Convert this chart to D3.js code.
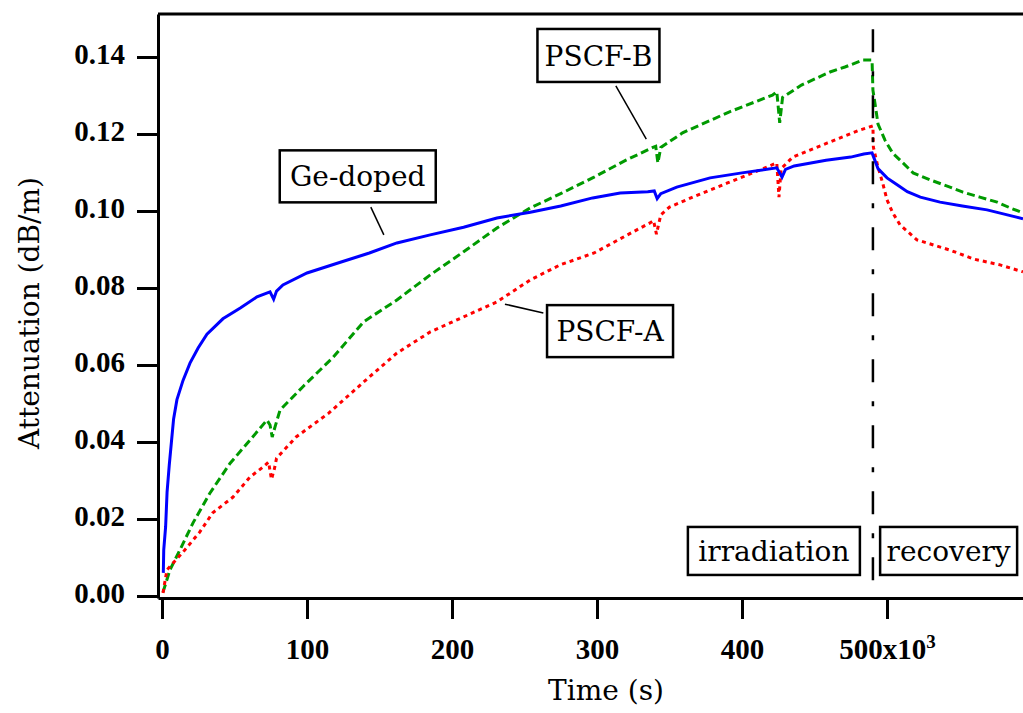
<!DOCTYPE html>
<html>
<head>
<meta charset="utf-8">
<script src="https://cdn.jsdelivr.net/npm/d3@7"></script>
<style>
  html, body { margin: 0; padding: 0; background: #fff; }
  svg { display: block; }
  .tick-lbl { font-family: "Liberation Serif", serif; font-weight: bold; font-size: 29px; fill: #000; }
  .title { font-family: "DejaVu Serif", serif; font-size: 28px; fill: #000; }
  .anno { font-family: "DejaVu Serif", serif; font-size: 28px; fill: #000; }
</style>
</head>
<body>
<div id="chart"></div>
<script>
// Time in units of 10^3 s, attenuation in dB/m

// Ge-doped fibre (blue)
const geTime = [0.9, 1.2, 2.5, 3.5, 5, 6.5, 8, 10.3, 14.5, 19.3, 25, 31, 42, 54, 65.5, 74.5, 77, 79, 83.4, 100, 123,
  143, 162, 185, 208, 231, 254, 275, 297, 316, 335, 339.5, 341.5, 344, 355, 378, 400, 424, 427.6, 430, 436, 458, 475,
  484, 489.7, 491, 493.8, 500, 507, 514, 523, 536.6, 552, 569, 583, 593.8];
const geValue = [0.006, 0.012, 0.018, 0.027, 0.034, 0.040, 0.046, 0.051, 0.056, 0.0605, 0.0645, 0.068, 0.072, 0.0748,
  0.0777, 0.079, 0.0771, 0.0792, 0.0808, 0.0839, 0.0867, 0.0891, 0.0917, 0.0938, 0.0958, 0.0982, 0.0997, 0.1013,
  0.1034, 0.1047, 0.105, 0.1052, 0.1032, 0.1045, 0.1062, 0.1086, 0.1099, 0.1112, 0.1088, 0.1108, 0.1117, 0.1132,
  0.114, 0.1148, 0.1151, 0.1138, 0.111, 0.1086, 0.1068, 0.105, 0.1036, 0.1023, 0.1013, 0.1003, 0.099, 0.098];

// PSCF-B (green, dashed)
const bTime = [0.7, 5.5, 12.4, 21.4, 33, 47, 60.7, 72.4, 74.5, 76, 78, 81.4, 97, 118, 139, 162, 185, 208, 231, 254,
  276, 298, 320, 339, 340.5, 342, 344, 359, 391, 421, 424, 426, 428, 441, 460.7, 471, 483.4, 489.7, 490.3, 491.7,
  493.8, 498.6, 504, 511, 518, 529.7, 543.4, 552.4, 564, 576, 585, 593.8];
const bValue = [0.001, 0.0068, 0.012, 0.019, 0.0267, 0.0345, 0.0405, 0.0457, 0.0444, 0.0413, 0.044, 0.0483, 0.0543,
  0.062, 0.0712, 0.0769, 0.0834, 0.0894, 0.0956, 0.1008, 0.1047, 0.1088, 0.1132, 0.1166, 0.1168, 0.1125, 0.1165,
  0.1203, 0.1257, 0.1301, 0.131, 0.1229, 0.1295, 0.1327, 0.1361, 0.1374, 0.1392, 0.1392, 0.1314, 0.128, 0.1226,
  0.1184, 0.115, 0.1125, 0.1099, 0.1081, 0.1062, 0.1049, 0.1036, 0.1023, 0.1008, 0.0995];

// PSCF-A (red, dotted)
const aTime = [0.7, 3.4, 14.5, 26, 35, 49, 60.7, 69.7, 73.5, 75.5, 77.5, 79, 92.5, 115, 143, 162, 185, 208, 231, 254,
  274.5, 298, 321, 336.5, 339, 341, 344, 350, 366, 390, 412, 424, 425.5, 427, 435, 459, 481, 490.3, 490.6, 493.8,
  497, 500, 504, 509, 520.7, 543, 560, 578, 593.8];
const aValue = [0.0008, 0.0068, 0.0114, 0.0166, 0.0216, 0.0257, 0.0309, 0.0335, 0.0348, 0.0303, 0.033, 0.0358,
  0.0413, 0.0475, 0.0569, 0.0631, 0.0686, 0.0725, 0.0764, 0.0821, 0.086, 0.0891, 0.0938, 0.0969, 0.0975, 0.094,
  0.099, 0.101, 0.1036, 0.1073, 0.1106, 0.1125, 0.1036, 0.111, 0.114, 0.1177, 0.121, 0.1221, 0.1166, 0.1114, 0.1073,
  0.1029, 0.0995, 0.0964, 0.0925, 0.0899, 0.0875, 0.086, 0.0842];

const yTicks = [0, 0.02, 0.04, 0.06, 0.08, 0.10, 0.12, 0.14];
const xTicks = [0, 100, 200, 300, 400, 500];
const irradiationEnd = 490.3;

// boxed labels: text, centre (time, value), leader line from/to (time, value)
const labelText = ["Ge-doped", "PSCF-B", "PSCF-A", "irradiation", "recovery"];
const labelAt = [[135, 0.109], [301, 0.1404], [309, 0.0688], [422, 0.0117], [542.5, 0.0117]];
const labelSize = [[156, 52], [122, 53], [126, 52], [172, 48], [137, 48]];
const leaderFrom = [[144, 0.1010], [313, 0.1325], [263, 0.0735], null, null];
const leaderTo = [[153, 0.0938], [334, 0.1187], [236.5, 0.0758], null, null];

const W = 1023, H = 713;
const svg = d3.select("#chart").append("svg").attr("width", W).attr("height", H);

const x = d3.scaleLinear().domain([-2.76, 593.8]).range([158, 1023]);
const y = d3.scaleLinear().domain([-0.00052, 0.15117]).range([598, 14]);

// top frame line
svg.append("line")
  .attr("x1", x.range()[0]).attr("x2", x.range()[1])
  .attr("y1", y.range()[1]).attr("y2", y.range()[1])
  .attr("stroke", "#000").attr("stroke-width", 3);

// y axis
const yAxis = svg.append("g")
  .attr("transform", `translate(${x.range()[0]},0)`)
  .call(d3.axisLeft(y).tickValues(yTicks).tickFormat(d3.format(".2f")).tickSize(21).tickPadding(12).tickSizeOuter(0));
yAxis.select(".domain").attr("stroke-width", 3);
yAxis.selectAll(".tick line").attr("stroke-width", 3);
yAxis.selectAll(".tick text").attr("class", "tick-lbl").attr("font-size", null).attr("font-family", null)
  .attr("dy", "0.24em");

// x axis
const xAxis = svg.append("g")
  .attr("transform", `translate(0,${y.range()[0]})`)
  .call(d3.axisBottom(x).tickValues(xTicks).tickFormat(d => d === 500 ? "500x10" : d).tickSize(21).tickSizeOuter(0));
xAxis.select(".domain").attr("stroke-width", 3);
xAxis.selectAll(".tick line").attr("stroke-width", 3);
xAxis.selectAll(".tick text").attr("class", "tick-lbl").attr("font-size", null).attr("font-family", null)
  .attr("y", 61).attr("dy", 0);
xAxis.selectAll(".tick text").filter(d => d === 500)
  .append("tspan").attr("dy", -11).attr("font-size", 19).text("3");

// axis titles
svg.append("text").attr("class", "title")
  .attr("x", 606).attr("y", 700).attr("text-anchor", "middle").text("Time (s)");
svg.append("text").attr("class", "title")
  .attr("transform", "translate(39,313) rotate(-90)").attr("text-anchor", "middle").text("Attenuation (dB/m)");

// curves
svg.append("clipPath").attr("id", "plot").append("rect")
  .attr("x", x.range()[0]).attr("y", y.range()[1])
  .attr("width", x.range()[1] - x.range()[0]).attr("height", y.range()[0] - y.range()[1]);

const line = d3.line().x(d => x(d[0])).y(d => y(d[1]));
const series = [
  {t: bTime, v: bValue, color: "#009a00", dash: "8,4"},
  {t: aTime, v: aValue, color: "#ff0000", dash: "4,4"},
  {t: geTime, v: geValue, color: "#0000ff", dash: null}
];
const curves = svg.append("g").attr("clip-path", "url(#plot)");
series.forEach(s => {
  curves.append("path")
    .datum(s.t.map((t, i) => [t, s.v[i]]))
    .attr("d", line)
    .attr("fill", "none")
    .attr("stroke", s.color)
    .attr("stroke-width", 3)
    .attr("stroke-dasharray", s.dash);
});

// end of irradiation marker
svg.append("line")
  .attr("x1", x(irradiationEnd)).attr("x2", x(irradiationEnd))
  .attr("y1", y(0.1472)).attr("y2", y(0.0022))
  .attr("stroke", "#000").attr("stroke-width", 2.5)
  .attr("stroke-dasharray", "23,19,5,19");

// boxed labels
labelText.forEach((txt, i) => {
  const cx = x(labelAt[i][0]), cy = y(labelAt[i][1]);
  const [bw, bh] = labelSize[i];
  if (leaderFrom[i]) {
    svg.append("line")
      .attr("x1", x(leaderFrom[i][0])).attr("y1", y(leaderFrom[i][1]))
      .attr("x2", x(leaderTo[i][0])).attr("y2", y(leaderTo[i][1]))
      .attr("stroke", "#000").attr("stroke-width", 1.5);
  }
  svg.append("rect")
    .attr("x", cx - bw / 2).attr("y", cy - bh / 2)
    .attr("width", bw).attr("height", bh)
    .attr("fill", "#fff").attr("stroke", "#000").attr("stroke-width", 2.5);
  svg.append("text").attr("class", "anno")
    .attr("x", cx).attr("y", cy).attr("dy", "0.36em")
    .attr("text-anchor", "middle").text(txt);
});
</script>
</body>
</html>
